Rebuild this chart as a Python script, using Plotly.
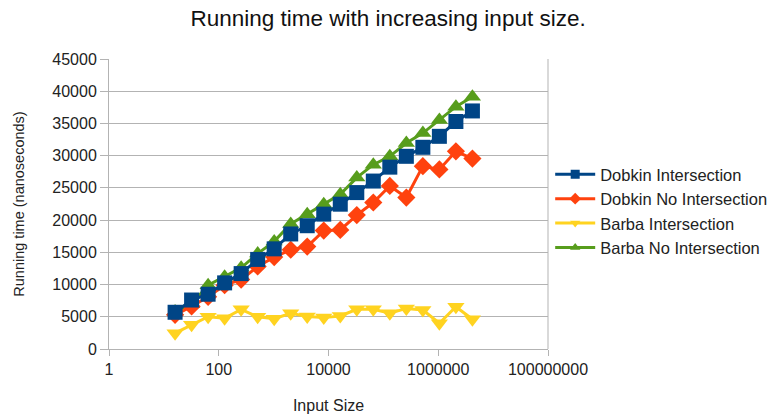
import plotly.graph_objects as go

sizes = [2**k for k in range(4, 23)]
dobkin_inter = [5700, 7600, 8500, 10260, 11700, 13900, 15540, 17850, 19130, 20930, 22470,
                24270, 26060, 28220, 29900, 31300, 33000, 35300, 36940]
dobkin_nointer = [5300, 6600, 8100, 9900, 10770, 12800, 14260, 15400, 15900, 18370, 18470,
                  20780, 22730, 25300, 23500, 28370, 27860, 30680, 29550]
barba_inter = [2460, 3750, 5000, 4770, 6150, 5000, 4700, 5540, 5030, 4870, 5130,
               6150, 6150, 5540, 6300, 6050, 4000, 6560, 4620]
barba_nointer = [5800, 7000, 9900, 11200, 12600, 14800, 16700, 19400, 20900, 22470, 24000,
                 26600, 28600, 29900, 31960, 33500, 35550, 37600, 39150]

series = [
    ("Dobkin Intersection", dobkin_inter, "#004586", "square", 15),
    ("Dobkin No Intersection", dobkin_nointer, "#ff420e", "diamond", 14),
    ("Barba Intersection", barba_inter, "#ffd320", "triangle-down", 15),
    ("Barba No Intersection", barba_nointer, "#579d1c", "triangle-up", 15),
]
draw_order = [3, 1, 2, 0]

fig = go.Figure()
for i in draw_order:
    name, ys, col, sym, ms = series[i]
    fig.add_trace(go.Scatter(
        x=sizes, y=ys, name=name, mode="lines+markers",
        line=dict(color=col, width=3),
        marker=dict(symbol=sym, size=ms, color=col),
        showlegend=False, legendgroup=name,
    ))
# legend entries with smaller symbols
for i, (name, ys, col, sym, ms) in enumerate(series):
    fig.add_trace(go.Scatter(
        x=[None], y=[None], name=name, mode="lines+markers",
        line=dict(color=col, width=3),
        marker=dict(symbol=sym, size=9, color=col),
        legendrank=i + 1, legendgroup=name, showlegend=True,
    ))

fig.update_layout(
    width=784, height=417,
    margin=dict(l=109, r=232, t=59, b=68),
    paper_bgcolor="white", plot_bgcolor="white",
    font=dict(family="Liberation Sans", size=15, color="#222222"),
    title=dict(text="Running time with increasing input size.", x=0.495, xanchor="center",
               y=0.957, yanchor="middle", font=dict(size=22.5, color="#111111")),
    showlegend=True,
    legend=dict(x=1.005, xanchor="left", y=0.476, yanchor="middle",
                font=dict(size=16.5, color="#222222"), tracegroupgap=0,
                bgcolor="rgba(0,0,0,0)", itemwidth=40),
    xaxis=dict(type="log", range=[0, 8], tickvals=[1, 100, 10000, 1000000, 100000000],
               ticktext=["1", "100", "10000", "1000000", "100000000"],
               showgrid=False, showline=True, linecolor="#b3b3b3", linewidth=1,
               ticks="outside", ticklen=6, tickcolor="#b3b3b3", automargin=False,
               tickfont=dict(size=16), zeroline=False,
               title=dict(text="Input Size", font=dict(size=16), standoff=22)),
    yaxis=dict(range=[0, 45000], dtick=5000, tickformat="d", showgrid=True, gridcolor="#b3b3b3",
               showline=True, linecolor="#b3b3b3", linewidth=1, automargin=False,
               ticks="outside", ticklen=8, tickcolor="#b3b3b3",
               tickfont=dict(size=16), zeroline=False,
               title=dict(text="Running time (nanoseconds)", font=dict(size=14.5), standoff=24)),
)
fig.add_shape(type="line", xref="paper", yref="paper", x0=1, x1=1, y0=0, y1=1,
              line=dict(color="#b3b3b3", width=1))

fig.write_html("out.html")
